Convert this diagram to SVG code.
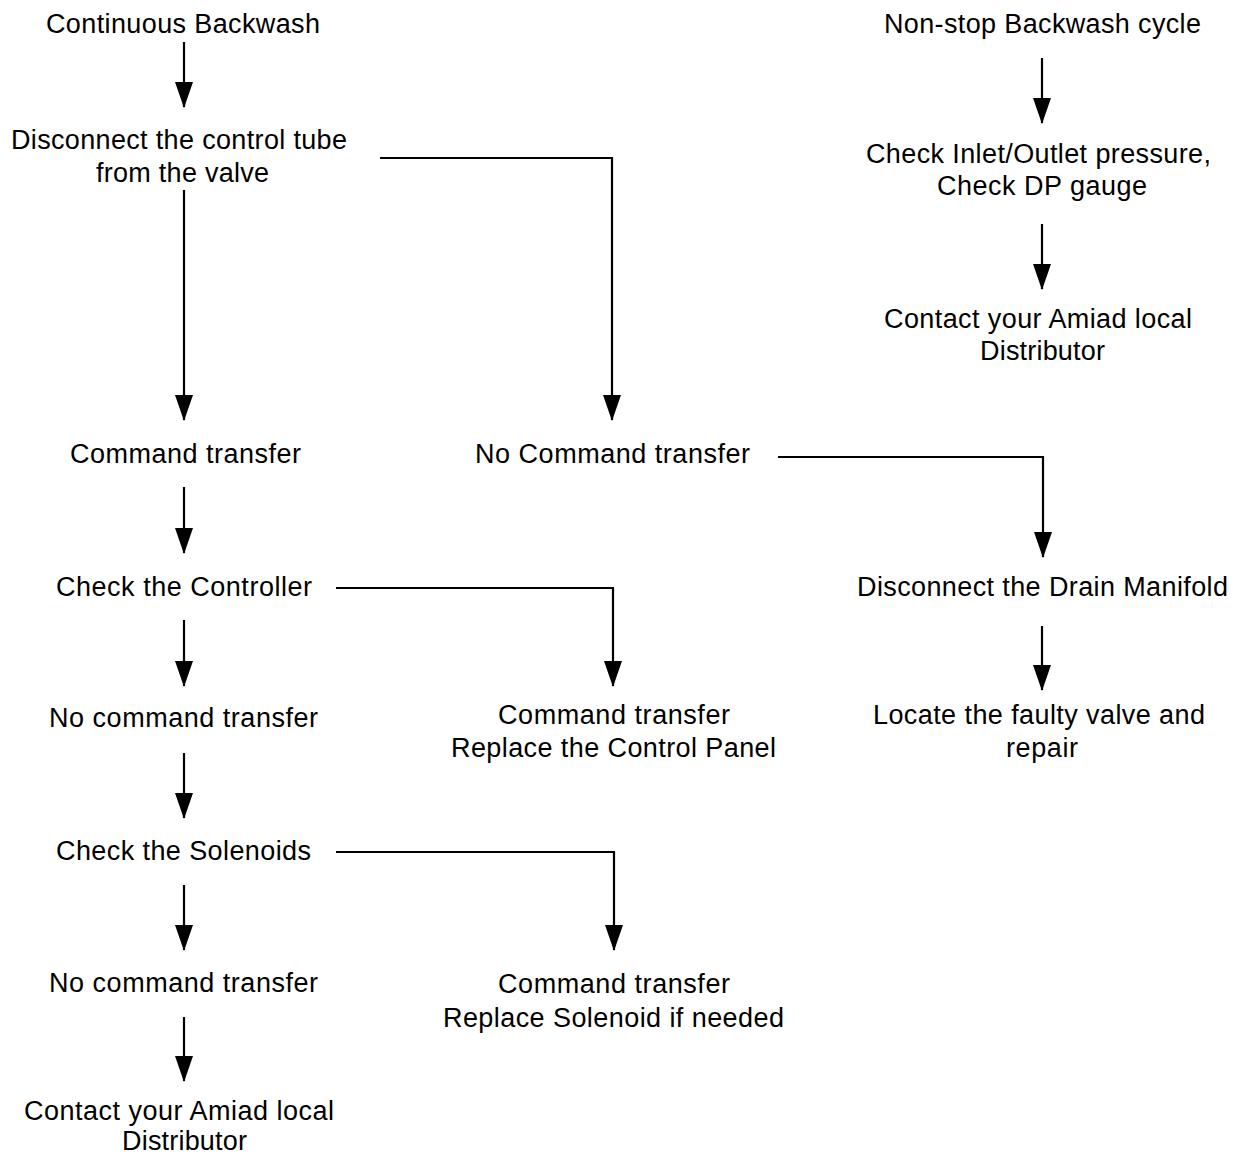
<svg xmlns="http://www.w3.org/2000/svg" width="1243" height="1155" viewBox="0 0 1243 1155">
<style>
text{font-family:"Liberation Sans",Arial,sans-serif;font-size:27px;fill:#000;text-anchor:middle}
.c{fill:none;stroke:#000;stroke-width:2.2}
</style>
<defs>
<marker id="a" markerUnits="userSpaceOnUse" markerWidth="26" markerHeight="18" viewBox="0 0 26 18" refX="25" refY="9" orient="auto">
<path d="M0,0 L26,9 L0,18 Z" fill="#000"/>
</marker>
</defs>
<rect width="1243" height="1155" fill="#fff"/>
<g id="connectors">
<path class="c" marker-end="url(#a)" d="M184,42 V107"/>
<path class="c" marker-end="url(#a)" d="M184,190 V420"/>
<path class="c" marker-end="url(#a)" d="M380,158 H612 V420"/>
<path class="c" marker-end="url(#a)" d="M184,487 V553"/>
<path class="c" marker-end="url(#a)" d="M778,457 H1043 V557"/>
<path class="c" marker-end="url(#a)" d="M184,620 V686"/>
<path class="c" marker-end="url(#a)" d="M336,588 H613 V686"/>
<path class="c" marker-end="url(#a)" d="M184,753 V818"/>
<path class="c" marker-end="url(#a)" d="M336,852 H614 V950"/>
<path class="c" marker-end="url(#a)" d="M184,885 V950"/>
<path class="c" marker-end="url(#a)" d="M184,1017 V1081"/>
<path class="c" marker-end="url(#a)" d="M1042,58 V123"/>
<path class="c" marker-end="url(#a)" d="M1042,224 V289"/>
<path class="c" marker-end="url(#a)" d="M1042,626 V690"/>
</g>
<g id="n1"><text x="183" y="33" textLength="274" lengthAdjust="spacing">Continuous Backwash</text></g>
<g id="n2"><text x="179" y="149" textLength="336" lengthAdjust="spacing">Disconnect the control tube</text><text x="182.5" y="182" textLength="173" lengthAdjust="spacing">from the valve</text></g>
<g id="n3"><text x="185.5" y="463" textLength="231" lengthAdjust="spacing">Command transfer</text></g>
<g id="n4"><text x="612.5" y="463" textLength="275" lengthAdjust="spacing">No Command transfer</text></g>
<g id="n5"><text x="184" y="596" textLength="256" lengthAdjust="spacing">Check the Controller</text></g>
<g id="n6"><text x="183.5" y="727" textLength="269" lengthAdjust="spacing">No command transfer</text></g>
<g id="n7"><text x="614" y="724" textLength="232" lengthAdjust="spacing">Command transfer</text><text x="613.5" y="757" textLength="325" lengthAdjust="spacing">Replace the Control Panel</text></g>
<g id="n8"><text x="183.5" y="860" textLength="255" lengthAdjust="spacing">Check the Solenoids</text></g>
<g id="n9"><text x="183.5" y="992" textLength="269" lengthAdjust="spacing">No command transfer</text></g>
<g id="n10"><text x="614" y="993" textLength="232" lengthAdjust="spacing">Command transfer</text><text x="613.5" y="1027" textLength="341" lengthAdjust="spacing">Replace Solenoid if needed</text></g>
<g id="n11"><text x="179" y="1120" textLength="310" lengthAdjust="spacing">Contact your Amiad local</text><text x="184.5" y="1150" textLength="125" lengthAdjust="spacing">Distributor</text></g>
<g id="n12"><text x="1042.5" y="33" textLength="317" lengthAdjust="spacing">Non-stop Backwash cycle</text></g>
<g id="n13"><text x="1038.5" y="163" textLength="345" lengthAdjust="spacing">Check Inlet/Outlet pressure,</text><text x="1042" y="195" textLength="210" lengthAdjust="spacing">Check DP gauge</text></g>
<g id="n14"><text x="1038" y="328" textLength="308" lengthAdjust="spacing">Contact your Amiad local</text><text x="1042.5" y="360" textLength="125" lengthAdjust="spacing">Distributor</text></g>
<g id="n15"><text x="1042.5" y="596" textLength="371" lengthAdjust="spacing">Disconnect the Drain Manifold</text></g>
<g id="n16"><text x="1039" y="724" textLength="332" lengthAdjust="spacing">Locate the faulty valve and</text><text x="1042" y="757" textLength="72" lengthAdjust="spacing">repair</text></g>
</svg>
